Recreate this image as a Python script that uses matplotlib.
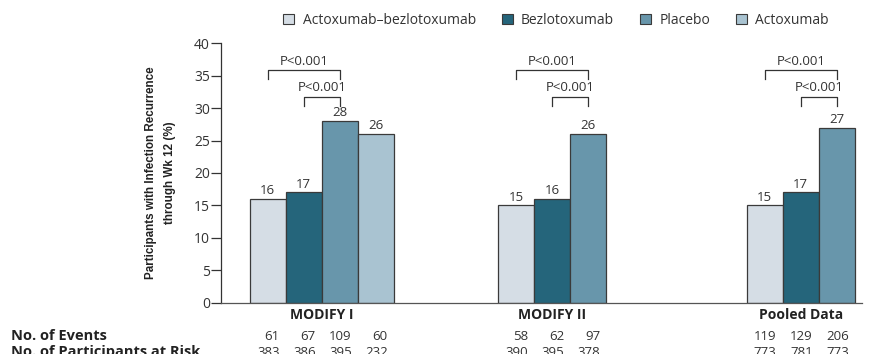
import matplotlib
matplotlib.use('Agg')
import matplotlib.pyplot as plt
import matplotlib.patches as patches

plt.rcParams['font.family'] = ['Open Sans', 'DejaVu Sans']

groups = ['MODIFY I', 'MODIFY II', 'Pooled Data']
treatments = ['Actoxumab\u2013bezlotoxumab', 'Bezlotoxumab', 'Placebo', 'Actoxumab']
colors = ['#d5dde5', '#25657b', '#6896ab', '#a9c3d1']

# recurrence (%) per group, in treatment order
recurrence = [[16, 17, 28, 26],
              [15, 16, 26],
              [15, 17, 27]]
events = [[61, 67, 109, 60],
          [58, 62, 97],
          [119, 129, 206]]
at_risk = [[383, 386, 395, 232],
           [390, 395, 378],
           [773, 781, 773]]
p_label = 'P<0.001'

fig = plt.figure(figsize=(8.74, 3.54), dpi=100)
ax = fig.add_axes([0.2529, 0.1441, 0.7334, 0.7344])

group_start = [0.8, 7.7, 14.6]
width = 1.0
edge = '#3a3a3a'
txt = '#333333'

for g, vals in enumerate(recurrence):
    centers = [group_start[g] + width / 2 + i for i in range(len(vals))]
    ax.bar(centers, vals, width=width, color=colors[:len(vals)],
           edgecolor=edge, linewidth=0.9)
    for c, v in zip(centers, vals):
        ax.text(c, v + 0.25, str(v), ha='center', va='bottom', fontsize=9.5, color=txt)

    # significance brackets: combo vs placebo, bezlotoxumab vs placebo
    for start, y in [(centers[0], 35.8), (centers[1], 31.7)]:
        ax.plot([start, start, centers[2], centers[2]], [y - 1.4, y, y, y - 1.4],
                color=txt, lw=0.9, clip_on=False)
        ax.text((start + centers[2]) / 2, y + 0.4, p_label, ha='center', va='bottom',
                fontsize=9.5, color=txt)

    mid = (centers[0] + centers[-1]) / 2
    ax.text(mid, -0.8, groups[g], ha='center', va='top', fontsize=10,
            fontweight='bold', color='#222222')

    for c, e, n in zip(centers, events[g], at_risk[g]):
        ax.text(c + 0.33, -5.15, str(e), ha='right', va='center', fontsize=9.5, color=txt)
        ax.text(c + 0.33, -7.55, str(n), ha='right', va='center', fontsize=9.5, color=txt)

ax.text(-5.83, -5.15, 'No. of Events', ha='left', va='center', fontsize=10.5,
        fontweight='bold', color='#222222', clip_on=False)
ax.text(-5.83, -7.55, 'No. of Participants at Risk', ha='left', va='center', fontsize=10.5,
        fontweight='bold', color='#222222', clip_on=False)

ax.set_xlim(0, 17.8)
ax.set_ylim(0, 40)
ax.set_yticks(range(0, 41, 5))
ax.set_xticks([])
ax.tick_params(axis='y', direction='out', length=7, width=0.9, labelsize=10,
               colors=txt, pad=1)
for s in ['top', 'right']:
    ax.spines[s].set_visible(False)
ax.spines['left'].set_color(txt)
ax.spines['bottom'].set_color('#555555')
ax.spines['left'].set_linewidth(0.9)
ax.spines['bottom'].set_linewidth(0.9)

ax.set_ylabel('Participants with Infection Recurrence\nthrough Wk 12 (%)',
              fontsize=8.4, fontweight='bold', color='#222222',
              family=['Liberation Sans Narrow', 'Liberation Sans', 'DejaVu Sans'],
              labelpad=13, linespacing=1.75)

handles = [patches.Patch(facecolor=c, edgecolor=edge, linewidth=0.8) for c in colors]
fig.legend(handles, treatments, loc='center left', bbox_to_anchor=(0.324, 0.943),
           ncol=4, frameon=False, fontsize=10, handlelength=0.8, handleheight=0.8,
           handletextpad=0.6, columnspacing=1.85, labelcolor=txt, borderpad=0,
           borderaxespad=0)

fig.savefig('out.png', dpi=100)
